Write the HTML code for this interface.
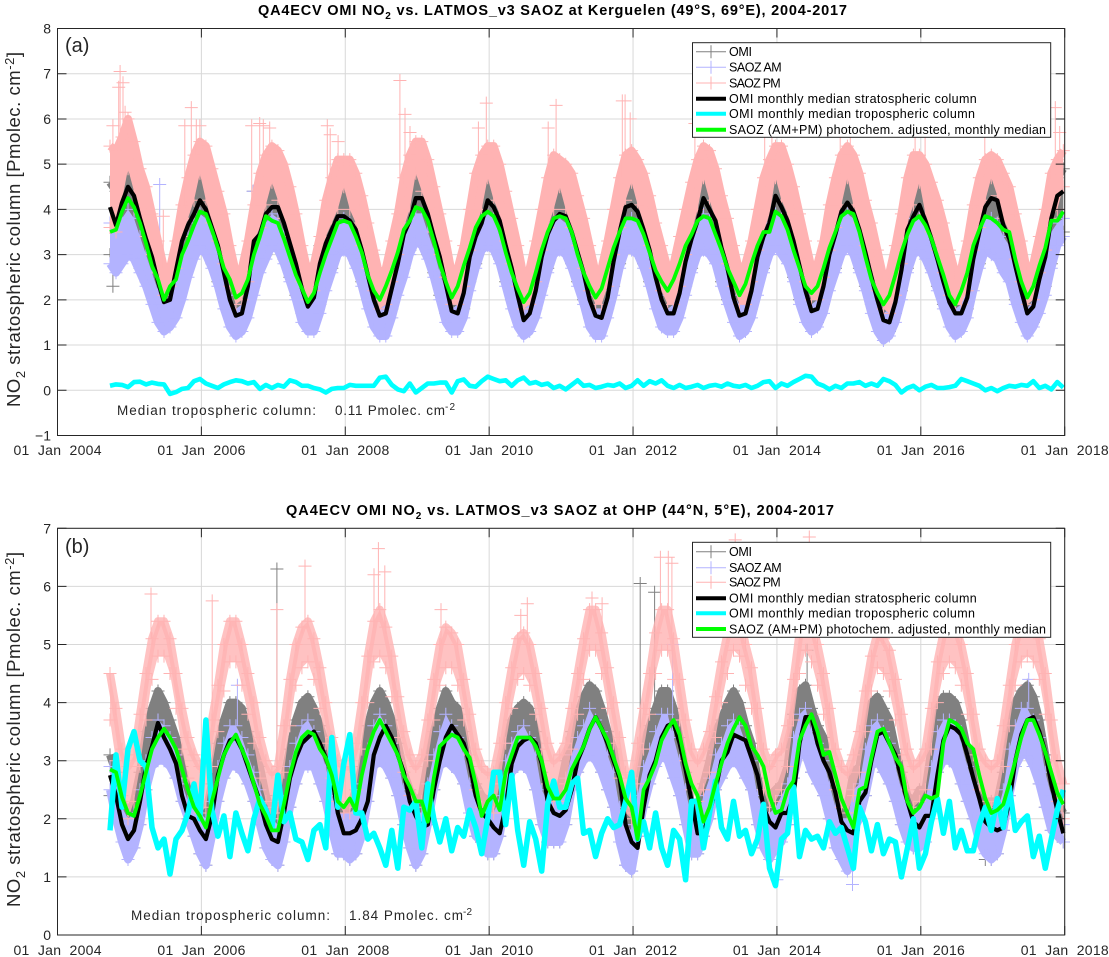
<!DOCTYPE html>
<html>
<head>
<meta charset="utf-8">
<title>QA4ECV OMI NO2 vs. LATMOS_v3 SAOZ</title>
<style>
html,body{margin:0;padding:0;background:#fff;}
svg{display:block;}
text{font-family:"Liberation Sans",sans-serif;fill:#262626;white-space:pre;}
.title{font-weight:bold;font-size:14.5px;fill:#000;}
.tick{font-size:14px;}
.ylab{font-size:18.5px;}
.leg{font-size:12.5px;fill:#000;}
.note{font-size:13.5px;}
.tag{font-size:20px;}
</style>
</head>
<body>
<svg id="chart" xmlns="http://www.w3.org/2000/svg" width="1109" height="957" viewBox="0 0 1109 957">
  <rect width="1109" height="957" fill="#fff"/>
  <g id="panelA"></g>
  <g id="panelB"></g>

  <text class="title" x="258" y="15" textLength="589">QA4ECV OMI NO<tspan dy="4" font-size="10">2</tspan><tspan dy="-4"> vs. LATMOS_v3 SAOZ at Kerguelen (49°S, 69°E), 2004-2017</tspan></text>
  <text class="title" x="286" y="515" textLength="548">QA4ECV OMI NO<tspan dy="4" font-size="10">2</tspan><tspan dy="-4"> vs. LATMOS_v3 SAOZ at OHP (44°N, 5°E), 2004-2017</tspan></text>

  <text class="ylab" transform="translate(20,407) rotate(-90)" textLength="355">NO<tspan dy="5" font-size="13">2</tspan><tspan dy="-5"> stratospheric column [Pmolec. cm</tspan><tspan dy="-6" font-size="13">-2</tspan><tspan dy="6">]</tspan></text>
  <text class="ylab" transform="translate(20,907) rotate(-90)" textLength="355">NO<tspan dy="5" font-size="13">2</tspan><tspan dy="-5"> stratospheric column [Pmolec. cm</tspan><tspan dy="-6" font-size="13">-2</tspan><tspan dy="6">]</tspan></text>

  <text class="tag" x="65" y="52">(a)</text>
  <text class="tag" x="65" y="553">(b)</text>

  <g>
    <text class="note" x="117" y="415" textLength="199">Median tropospheric column:</text>
    <text class="note" x="335" y="415" textLength="110">0.11 Pmolec. cm</text>
    <text class="note" x="445" y="410" font-size="10" style="font-size:10px" textLength="10">-2</text>
  </g>
  <g>
    <text class="note" x="131" y="920" textLength="199">Median tropospheric column:</text>
    <text class="note" x="349" y="920" textLength="114">1.84 Pmolec. cm</text>
    <text class="note" x="463" y="915" style="font-size:10px" textLength="9">-2</text>
  </g>

  <g>
    <rect x="692.5" y="42.7" width="358.2" height="94.6" fill="#fff" stroke="#262626" stroke-width="1"/>
    <g><path d="M696 51.7H726M711 45.2V58.2" stroke="#808080" fill="none"/><text class="leg" x="729" y="56" textLength="23">OMI</text></g>
    <g><path d="M696 67.3H726M711 60.8V73.8" stroke="#b3b3ff" fill="none"/><text class="leg" x="729" y="71.6" textLength="52.7">SAOZ AM</text></g>
    <g><path d="M696 83H726M711 76.5V89.5" stroke="#ffb3b3" fill="none"/><text class="leg" x="729" y="87.3" textLength="51.7">SAOZ PM</text></g>
    <g><path d="M696 98.7H726" stroke="#000" stroke-width="4"/><text class="leg" x="729" y="103" textLength="247.7">OMI monthly median stratospheric column</text></g>
    <g><path d="M696 113.7H726" stroke="#0ff" stroke-width="4"/><text class="leg" x="729" y="118" textLength="246">OMI monthly median tropospheric column</text></g>
    <g><path d="M696 129.7H726" stroke="#0f0" stroke-width="4"/><text class="leg" x="729" y="134" textLength="317">SAOZ (AM+PM) photochem. adjusted, monthly median</text></g>
  </g>
  <g>
    <rect x="692.5" y="542.3" width="358.2" height="95" fill="#fff" stroke="#262626" stroke-width="1"/>
    <g><path d="M696 551.7H726M711 545.2V558.2" stroke="#808080" fill="none"/><text class="leg" x="729" y="556" textLength="23">OMI</text></g>
    <g><path d="M696 567.7H726M711 561.2V574.2" stroke="#b3b3ff" fill="none"/><text class="leg" x="729" y="572" textLength="52.7">SAOZ AM</text></g>
    <g><path d="M696 582.3H726M711 575.8V588.8" stroke="#ffb3b3" fill="none"/><text class="leg" x="729" y="586.6" textLength="51.7">SAOZ PM</text></g>
    <g><path d="M696 598.3H726" stroke="#000" stroke-width="4"/><text class="leg" x="729" y="602.6" textLength="247.7">OMI monthly median stratospheric column</text></g>
    <g><path d="M696 613.3H726" stroke="#0ff" stroke-width="4"/><text class="leg" x="729" y="617.6" textLength="246">OMI monthly median tropospheric column</text></g>
    <g><path d="M696 629H726" stroke="#0f0" stroke-width="4"/><text class="leg" x="729" y="633.3" textLength="317">SAOZ (AM+PM) photochem. adjusted, monthly median</text></g>
  </g>
</svg>
<script>
// Time axis
const firstSampleYear = 2004.73;
const xTickYears = [2004,2006,2008,2010,2012,2014,2016,2018];
const xTickLabels = ['01  Jan  2004','01  Jan  2006','01  Jan  2008','01  Jan  2010','01  Jan  2012','01  Jan  2014','01  Jan  2016','01  Jan  2018'];
const aYTicks = [-1,0,1,2,3,4,5,6,7,8];
const bYTicks = [0,1,2,3,4,5,6,7];

// Panel (a) Kerguelen: monthly series
const aOmiMedian = [4.05,3.65,4.15,
4.50,4.30,3.80,3.35,2.95,2.40,1.95,2.00,2.65,3.30,3.65,3.90,
4.20,4.00,3.60,3.20,2.60,2.00,1.65,1.70,2.30,3.30,3.45,3.90,
4.05,4.05,3.70,3.25,2.80,2.25,1.85,2.05,2.80,3.25,3.55,3.85,
3.85,3.75,3.55,3.10,2.55,2.00,1.65,1.70,2.25,2.80,3.45,3.75,
4.25,4.25,3.90,3.40,2.95,2.35,1.75,1.70,2.15,2.95,3.40,3.70,
4.20,4.05,3.75,3.20,2.70,2.10,1.55,1.70,2.20,2.95,3.45,3.75,
3.90,3.85,3.50,3.05,2.60,2.00,1.65,1.60,2.05,2.85,3.50,4.05,
4.10,3.95,3.55,3.10,2.50,2.00,1.70,1.70,2.15,2.85,3.35,3.75,
4.25,4.00,3.75,3.15,2.70,2.05,1.65,1.70,2.20,2.95,3.40,3.70,
4.30,4.05,3.75,3.30,2.75,2.20,1.75,1.80,2.30,3.00,3.45,3.95,
4.15,3.95,3.55,3.05,2.50,2.00,1.55,1.50,1.95,2.65,3.55,3.85,
4.10,3.75,3.35,2.90,2.40,1.95,1.70,1.70,2.05,2.90,3.50,4.05,
4.25,4.20,3.65,3.35,2.75,2.20,1.70,1.85,2.45,2.95,3.80,4.30,
4.40];
const aSaozMedian = [3.50,3.55,3.95,
4.25,4.05,3.70,3.25,2.75,2.45,2.00,2.30,2.45,3.00,3.30,3.65,
3.95,3.90,3.55,3.15,2.70,2.45,2.05,2.15,2.45,3.00,3.40,3.85,
3.75,3.70,3.35,2.95,2.55,2.25,1.95,2.15,2.60,3.00,3.35,3.70,
3.75,3.70,3.40,3.05,2.55,2.20,2.00,2.30,2.65,3.05,3.55,3.75,
4.05,4.00,3.75,3.30,2.80,2.40,2.05,2.30,2.75,3.15,3.60,3.85,
3.95,3.85,3.55,3.05,2.60,2.25,1.95,2.15,2.60,3.10,3.50,3.80,
3.85,3.80,3.50,3.00,2.60,2.30,2.05,2.25,2.70,3.15,3.50,3.80,
3.80,3.75,3.45,3.05,2.65,2.40,2.20,2.45,2.80,3.20,3.45,3.75,
3.85,3.80,3.45,3.10,2.70,2.40,2.10,2.35,2.80,3.20,3.50,3.50,
3.95,3.85,3.55,3.10,2.70,2.30,2.15,2.30,2.70,3.15,3.50,3.85,
3.95,3.90,3.50,2.95,2.45,2.15,1.90,2.10,2.55,3.05,3.45,3.75,
3.85,3.65,3.35,2.95,2.55,2.10,1.90,2.20,2.60,3.20,3.55,3.85,
3.80,3.70,3.55,3.50,2.90,2.40,2.05,2.30,2.75,3.15,3.75,3.75,
3.95];
const aTropMedian = [.10,.13,.12,.07,.18,.19,.13,.17,.14,.13,
-.08,-.04,.03,.05,.20,.25,.15,.10,.05,.13,
.18,.22,.20,.15,.18,.03,.12,.05,.12,.08,
.22,.18,.10,.10,.05,.02,-.05,.03,.05,.05,
.12,.10,.10,.10,.10,.28,.30,.12,.02,-.02,
.15,-.05,.05,.15,.15,.17,.17,-.05,.20,.24,
.10,.08,.20,.30,.25,.20,.22,.10,.22,.28,
.15,.18,.12,.15,.05,.10,.02,.12,.22,.10,
.12,.05,.08,.12,.10,.15,.05,.10,.22,.10,
.20,.15,.22,.10,.05,.12,.05,.08,.12,.05,
.10,.12,.08,.15,.10,.08,.12,.05,.10,.18,
.20,.05,.15,.10,.18,.25,.32,.30,.15,.10,
.02,.10,.05,.15,.15,.18,.10,.15,.10,.25,
.20,.12,-.05,.05,.10,.00,.08,.12,.05,.05,
.07,.10,.25,.20,.15,.10,.00,.05,-.02,.05,
.10,.08,.12,.10,.20,.05,.10,.02,.18,.06];

// Panel (a): upper and lower edges of each daily cloud
const aOmiHigh = [4.6,4.4,4.7,
5.1,4.7,4.1,3.7,3.3,2.8,2.3,2.5,3.0,3.7,4.2,4.5,
4.8,4.6,4.2,3.7,3.2,2.6,2.2,2.3,2.8,3.5,4.1,4.4,
4.7,4.6,4.2,3.8,3.3,2.8,2.3,2.5,3.2,3.8,4.2,4.4,
4.6,4.4,4.1,3.7,3.1,2.6,2.1,2.3,2.8,3.4,4.0,4.4,
4.9,4.8,4.4,3.9,3.4,2.9,2.2,2.3,2.7,3.5,4.1,4.4,
4.8,4.6,4.3,3.8,3.2,2.7,2.1,2.3,2.8,3.5,4.0,4.4,
4.6,4.4,4.1,3.6,3.1,2.6,2.2,2.2,2.7,3.5,4.0,4.5,
4.7,4.5,4.1,3.6,3.1,2.6,2.2,2.3,2.8,3.4,3.9,4.4,
4.8,4.6,4.3,3.7,3.2,2.6,2.2,2.3,2.8,3.5,4.0,4.4,
4.8,4.6,4.3,3.8,3.3,2.8,2.3,2.4,2.9,3.6,4.0,4.5,
4.8,4.5,4.1,3.6,3.1,2.6,2.1,2.1,2.6,3.2,4.0,4.5,
4.7,4.3,3.9,3.5,3.0,2.5,2.2,2.3,2.7,3.5,4.1,4.5,
4.8,4.7,4.2,3.9,3.3,2.8,2.3,2.4,3.0,3.5,4.1,4.7,
4.9];
const aOmiLow = [3.0,2.9,3.0,
3.2,3.0,2.7,2.4,2.1,1.7,1.5,1.6,1.9,2.4,2.8,3.1,
3.3,3.2,2.8,2.4,2.0,1.6,1.4,1.5,1.8,2.3,2.8,3.0,
3.3,3.2,2.9,2.5,2.1,1.7,1.5,1.5,1.9,2.4,2.7,3.1,
3.2,3.1,2.8,2.4,2.0,1.6,1.4,1.4,1.8,2.3,2.7,3.1,
3.4,3.3,3.0,2.6,2.1,1.7,1.5,1.5,1.8,2.4,2.8,3.2,
3.3,3.2,2.9,2.4,2.0,1.6,1.4,1.5,1.8,2.3,2.7,3.1,
3.2,3.1,2.8,2.4,2.0,1.6,1.4,1.4,1.8,2.3,2.8,3.2,
3.2,3.1,2.8,2.4,2.0,1.6,1.5,1.5,1.8,2.3,2.7,3.1,
3.2,3.1,2.9,2.4,2.0,1.7,1.4,1.5,1.8,2.3,2.7,3.1,
3.3,3.1,2.9,2.5,2.0,1.7,1.5,1.5,1.9,2.4,2.7,3.1,
3.3,3.1,2.7,2.3,1.9,1.5,1.3,1.3,1.7,2.2,2.7,3.1,
3.2,3.0,2.7,2.3,1.9,1.6,1.4,1.5,1.8,2.4,2.8,3.2,
3.1,3.0,2.7,2.5,2.0,1.7,1.4,1.5,1.9,2.3,2.8,3.3,
3.5];
const aAmHigh = [3.7,3.5,3.8,
4.0,3.8,3.4,3.0,2.6,2.2,1.9,2.0,2.4,3.0,3.4,3.7,
3.9,3.8,3.4,3.0,2.5,2.1,1.8,1.9,2.3,2.9,3.3,3.7,
3.9,3.8,3.5,3.0,2.6,2.2,1.9,2.0,2.5,3.0,3.4,3.7,
3.8,3.7,3.4,2.9,2.4,2.0,1.8,1.9,2.3,2.8,3.3,3.7,
3.9,3.9,3.5,3.1,2.6,2.2,1.8,1.9,2.3,2.9,3.4,3.7,
3.9,3.8,3.4,3.0,2.5,2.1,1.8,1.9,2.3,2.9,3.4,3.7,
3.8,3.7,3.4,2.9,2.5,2.1,1.8,1.8,2.2,2.8,3.4,3.8,
3.8,3.7,3.4,2.9,2.4,2.1,1.8,1.9,2.3,2.9,3.3,3.7,
3.9,3.8,3.5,3.0,2.5,2.1,1.9,1.9,2.3,2.9,3.4,3.7,
3.9,3.8,3.5,3.1,2.6,2.2,1.9,2.0,2.4,3.0,3.4,3.8,
3.9,3.8,3.4,2.9,2.4,2.0,1.7,1.8,2.2,2.8,3.4,3.8,
3.8,3.6,3.2,2.8,2.4,2.0,1.8,1.9,2.3,2.9,3.4,3.8,
3.8,3.7,3.4,3.2,2.7,2.2,1.8,2.0,2.4,2.9,3.5,3.7,
3.8];
const aAmLow = [2.8,2.6,2.8,
3.0,2.9,2.6,2.3,1.9,1.5,1.3,1.4,1.6,2.0,2.5,2.9,
3.2,3.0,2.7,2.3,1.8,1.4,1.2,1.3,1.6,2.1,2.6,2.9,
3.2,3.1,2.8,2.4,2.0,1.5,1.3,1.3,1.7,2.2,2.6,3.0,
3.1,3.0,2.7,2.3,1.8,1.4,1.2,1.2,1.6,2.1,2.5,3.0,
3.3,3.2,2.9,2.5,2.0,1.5,1.3,1.3,1.6,2.2,2.7,3.1,
3.2,3.1,2.8,2.3,1.8,1.4,1.2,1.3,1.6,2.1,2.6,3.0,
3.1,3.0,2.7,2.3,1.9,1.4,1.2,1.2,1.6,2.1,2.7,3.1,
3.1,3.0,2.7,2.3,1.8,1.4,1.3,1.3,1.6,2.1,2.6,3.0,
3.1,3.0,2.8,2.3,1.9,1.5,1.2,1.3,1.6,2.1,2.6,3.0,
3.2,3.0,2.8,2.4,1.9,1.5,1.3,1.4,1.7,2.2,2.6,3.0,
3.2,3.0,2.6,2.2,1.7,1.3,1.1,1.2,1.5,2.0,2.6,3.0,
3.1,2.9,2.6,2.2,1.8,1.4,1.2,1.3,1.6,2.2,2.7,3.1,
3.0,2.9,2.6,2.4,1.9,1.5,1.2,1.4,1.7,2.1,2.7,3.2,
3.4];
const aPmHigh = [5.4,5.3,5.6,
6.0,5.5,4.9,4.5,3.9,3.3,2.7,2.7,3.3,4.1,4.7,5.2,
5.5,5.4,4.9,4.4,3.9,3.2,2.6,2.7,3.3,4.1,4.8,5.2,
5.4,5.3,5.0,4.5,3.9,3.2,2.6,2.8,3.4,4.2,4.7,5.1,
5.1,5.1,4.8,4.3,3.7,3.1,2.5,2.7,3.3,3.9,4.7,5.2,
5.5,5.5,5.1,4.5,3.9,3.3,2.6,2.7,3.2,4.0,4.8,5.2,
5.4,5.4,5.0,4.4,3.8,3.2,2.5,2.7,3.3,4.0,4.7,5.2,
5.1,5.0,4.8,4.3,3.8,3.2,2.6,2.7,3.3,4.0,4.7,5.2,
5.3,5.1,4.8,4.3,3.7,3.2,2.7,2.8,3.4,4.0,4.6,5.1,
5.4,5.3,4.9,4.3,3.8,3.2,2.6,2.8,3.3,4.0,4.7,5.1,
5.4,5.4,5.0,4.5,3.9,3.3,2.7,2.8,3.3,4.1,4.7,5.2,
5.4,5.2,4.8,4.2,3.7,3.1,2.5,2.6,3.2,3.9,4.7,5.2,
5.2,5.0,4.6,4.2,3.7,3.1,2.6,2.7,3.3,4.1,4.7,5.1,
5.2,5.1,4.8,4.5,3.9,3.3,2.6,2.8,3.4,4.0,4.8,5.1,
5.3];
const aPmLow = [3.6,3.5,4.2,
4.9,4.4,3.9,3.4,3.0,2.6,2.1,2.3,2.7,3.4,3.8,4.2,
4.8,4.2,3.7,3.3,2.8,2.3,1.9,2.0,2.4,3.3,3.6,4.1,
4.6,4.2,3.8,3.4,2.9,2.4,2.0,2.2,2.9,3.4,3.7,4.0,
4.5,4.0,3.7,3.2,2.7,2.2,1.8,1.9,2.4,3.0,3.6,4.0,
4.8,4.4,4.0,3.5,3.0,2.5,1.9,1.9,2.3,3.1,3.6,4.0,
4.7,4.2,3.9,3.3,2.8,2.3,1.8,1.9,2.4,3.1,3.6,4.0,
4.5,4.0,3.6,3.2,2.7,2.2,1.9,1.9,2.3,3.0,3.6,4.2,
4.6,4.1,3.7,3.2,2.7,2.2,1.9,1.9,2.3,3.0,3.5,4.0,
4.7,4.2,3.8,3.3,2.8,2.3,1.9,1.9,2.4,3.1,3.5,3.9,
4.7,4.2,3.9,3.4,2.9,2.4,2.0,2.0,2.5,3.1,3.6,4.1,
4.7,4.1,3.7,3.2,2.7,2.2,1.8,1.7,2.1,2.8,3.7,4.1,
4.6,3.9,3.5,3.1,2.6,2.1,1.9,1.9,2.2,3.1,3.6,4.2,
4.7,4.3,3.8,3.5,2.9,2.4,1.9,2.0,2.6,3.1,3.8,4.0,
4.5];

// Panel (a): isolated outliers
const aPmSpikeDates = [2004.77,2004.85,2004.87,2004.91,2004.94,2005.47,2005.77,2005.86,2005.93,2005.98,2006.70,2006.81,2006.86,2006.95,2007.75,2007.79,2007.90,2008.76,2008.83,2008.90,2009.85,2009.96,2010.82,2010.93,2011.85,2011.89,2011.96,2012.86,2013.83,2013.93,2014.88,2015.02,2015.92,2016.06,2016.89,2017.87,2017.93];
const aPmSpikeValues = [5.85,6.7,7.05,6.8,6.15,3.85,5.85,6.25,5.85,5.85,5.85,5.9,5.85,5.8,5.85,5.65,5.5,6.85,6.1,5.7,5.8,6.35,5.8,6.3,6.4,6.4,6.0,5.9,5.9,6.3,5.9,5.9,5.9,5.8,5.7,6.25,5.7];
const aAmSpikeDates = [2005.42,2006.72];
const aAmSpikeValues = [4.55,4.4];
const aOmiSpikeDates = [2004.77,2006.72,2007.75];
const aOmiSpikeValues = [2.3,4.4,2.9];

// Panel (b) OHP: monthly series
const bOmiMedian = [2.75,2.40,1.90,1.65,1.80,2.30,2.90,3.25,3.65,3.40,
3.20,2.95,2.40,2.05,2.00,1.80,1.65,2.05,2.75,3.10,
3.35,3.40,3.20,2.90,2.60,2.30,1.90,1.65,1.60,2.10,
2.70,3.05,3.30,3.40,3.50,3.30,3.05,2.75,2.10,1.75,
1.75,1.80,2.00,2.30,3.10,3.40,3.60,3.40,3.10,2.80,
2.30,2.05,1.85,1.90,2.50,3.00,3.40,3.60,3.45,3.30,
2.95,2.40,2.10,2.00,1.85,1.75,2.20,2.95,3.25,3.35,
3.40,3.30,2.95,2.30,2.10,2.05,2.15,2.50,3.00,3.25,
3.55,3.75,3.55,3.30,3.00,2.70,1.90,1.60,1.50,2.20,
2.75,3.00,3.40,3.60,3.65,3.30,2.85,2.30,1.75,1.75,
2.10,2.50,3.00,3.15,3.45,3.40,3.35,3.05,2.75,2.20,
1.95,1.85,2.10,2.10,2.40,3.30,3.75,3.75,3.30,3.00,
2.80,2.45,1.95,1.80,1.75,2.30,2.45,3.00,3.45,3.50,
3.30,3.10,2.70,2.30,1.95,1.85,2.05,2.05,2.75,3.35,
3.60,3.55,3.45,3.10,2.70,2.35,1.95,1.85,1.80,1.85,
2.30,3.00,3.45,3.70,3.75,3.50,3.15,2.60,2.15,1.75];
const bSaozMedian = [2.85,2.80,2.37,2.10,2.05,2.40,2.80,3.20,3.40,3.55,
3.40,3.20,2.85,2.50,2.20,2.05,1.85,2.30,2.70,3.10,
3.30,3.45,3.20,2.95,2.60,2.25,2.05,1.80,1.80,2.25,
2.75,3.15,3.40,3.50,3.45,3.20,3.05,2.75,2.30,2.20,
2.35,2.15,2.75,3.20,3.50,3.70,3.50,3.30,3.10,2.75,
2.55,2.30,2.30,1.95,2.70,3.25,3.35,3.45,3.40,3.20,
3.05,2.60,2.05,2.30,2.40,2.15,2.80,3.10,3.40,3.40,
3.40,3.25,3.00,2.55,2.35,2.35,2.50,2.85,3.05,3.25,
3.55,3.75,3.55,3.35,3.05,2.75,2.35,2.20,1.65,2.50,
2.70,2.95,3.35,3.55,3.70,3.45,2.95,2.60,2.40,1.95,
2.20,2.60,2.95,3.30,3.55,3.75,3.60,3.25,3.10,2.90,
2.40,2.10,2.15,2.50,2.65,3.35,3.60,3.80,3.50,3.10,
3.15,2.75,2.35,2.10,1.85,2.50,2.55,3.05,3.50,3.55,
3.30,3.05,2.90,2.30,2.10,2.20,2.40,2.35,2.40,3.30,
3.70,3.65,3.55,3.30,3.20,2.75,2.35,2.10,2.15,2.25,
2.60,3.00,3.40,3.70,3.70,3.45,3.15,2.80,2.45,2.25];
const bTropMedian = [1.80,3.10,2.20,3.20,3.50,3.00,2.90,1.85,1.50,1.65,
1.05,1.65,1.80,2.10,2.60,2.00,3.70,2.15,1.70,2.05,
1.35,2.10,1.75,1.45,2.00,2.35,2.15,1.85,2.75,1.95,
2.10,1.65,1.60,1.30,1.80,1.90,1.50,3.40,2.20,2.95,
3.45,2.10,2.10,1.65,1.75,1.50,1.20,1.80,1.15,2.20,
2.15,2.30,1.50,2.60,2.00,1.60,2.00,1.45,1.85,1.70,
2.15,1.85,1.40,2.00,2.80,2.80,1.90,2.75,1.80,1.20,
1.95,1.65,1.10,2.25,2.65,2.20,2.20,2.60,2.70,1.75,
1.80,1.35,1.75,2.00,1.85,1.90,2.30,2.80,1.65,1.95,
1.50,2.10,1.50,1.20,1.80,1.65,0.95,2.30,2.30,1.50,
2.10,2.65,1.85,1.65,2.30,1.70,1.80,1.40,1.65,2.25,
1.15,0.85,1.65,1.75,2.55,1.35,1.80,1.65,1.70,1.50,
1.95,1.75,1.85,1.50,1.15,2.20,1.95,1.45,1.90,1.40,
1.65,1.60,1.00,1.50,2.00,1.15,1.40,1.95,2.35,1.75,
2.30,1.50,1.80,1.45,1.45,1.90,2.20,1.80,2.35,1.85,
2.55,1.80,1.95,2.05,1.35,1.70,1.15,1.65,2.15,2.50];

// Panel (b): upper and lower edges of each daily cloud
const bOmiHigh = [3.1,2.8,2.3,
2.1,2.3,2.8,3.5,3.9,4.2,4.0,3.7,3.4,2.9,2.5,2.4,
2.2,2.1,2.6,3.3,3.7,4.0,4.0,3.9,3.5,3.2,2.9,2.4,
2.1,2.1,2.7,3.2,3.7,4.0,4.1,3.9,3.6,3.3,2.6,2.2,
2.1,2.2,2.5,2.9,3.6,4.0,4.2,4.0,3.7,3.3,2.8,2.5,
2.3,2.4,3.0,3.5,3.9,4.2,4.0,3.9,3.5,2.9,2.6,2.4,
2.3,2.2,2.7,3.3,3.7,3.9,4.0,3.9,3.5,2.8,2.5,2.5,
2.5,3.0,3.5,3.8,4.1,4.3,4.2,3.9,3.5,3.2,2.5,2.1,
2.0,2.7,3.3,3.6,3.9,4.2,4.2,3.9,3.4,2.8,2.2,2.2,
2.6,3.0,3.5,3.7,4.0,4.2,4.0,3.6,3.3,2.7,2.4,2.4,
2.5,2.6,2.9,3.8,4.2,4.3,3.9,3.6,3.4,2.9,2.4,2.2,
2.2,2.8,2.9,3.5,4.0,4.1,3.9,3.7,3.2,2.8,2.4,2.3,
2.5,2.5,3.2,3.9,4.1,4.1,4.0,3.7,3.2,2.9,2.4,2.3,
2.3,2.3,2.8,3.5,4.0,4.2,4.3,4.1,3.7,3.1,2.6,2.3,
2.1];
const bOmiLow = [2.4,2.0,1.6,
1.3,1.5,1.9,2.5,2.9,3.1,3.1,3.0,2.7,2.3,2.0,1.7,
1.4,1.2,1.7,2.3,2.7,3.0,3.0,2.8,2.6,2.3,1.9,1.5,
1.3,1.2,1.6,2.2,2.6,2.9,3.0,2.9,2.6,2.3,1.8,1.4,
1.4,1.3,1.4,1.7,2.3,2.9,3.1,2.9,2.7,2.4,1.9,1.5,
1.2,1.4,1.9,2.5,2.9,3.1,3.0,2.8,2.6,2.1,1.7,1.6,
1.4,1.4,1.7,2.4,2.8,3.0,3.0,2.8,2.5,1.9,1.6,1.6,
1.6,1.9,2.5,2.8,3.0,3.2,3.1,2.8,2.5,2.2,1.6,1.2,
1.1,1.7,2.2,2.6,2.9,3.1,3.1,2.7,2.4,1.9,1.4,1.4,
1.7,2.0,2.5,2.7,3.0,3.1,3.0,2.7,2.5,1.9,1.5,1.3,
1.5,1.6,1.9,2.7,3.1,3.2,2.8,2.6,2.4,2.0,1.5,1.3,
1.2,1.8,2.0,2.4,2.9,3.0,2.8,2.6,2.3,1.9,1.6,1.5,
1.5,1.6,2.2,2.8,3.0,3.0,2.9,2.6,2.3,2.0,1.6,1.3,
1.3,1.4,1.8,2.4,2.9,3.1,3.1,2.9,2.6,2.2,1.8,1.7,
1.6];
const bAmHigh = [2.9,2.6,2.2,
2.0,2.1,2.5,3.0,3.4,3.7,3.6,3.4,3.1,2.6,2.3,2.2,
2.1,2.0,2.3,2.9,3.3,3.6,3.6,3.4,3.1,2.8,2.5,2.2,
2.0,1.9,2.3,2.9,3.3,3.6,3.7,3.5,3.2,2.9,2.4,2.1,
2.1,2.1,2.2,2.6,3.2,3.6,3.8,3.6,3.3,3.0,2.5,2.3,
2.1,2.1,2.6,3.1,3.5,3.8,3.6,3.4,3.1,2.6,2.3,2.2,
2.1,2.1,2.4,3.0,3.3,3.5,3.6,3.4,3.1,2.5,2.3,2.3,
2.3,2.7,3.1,3.4,3.6,3.9,3.7,3.5,3.1,2.8,2.2,1.9,
1.8,2.4,2.9,3.2,3.5,3.8,3.8,3.4,3.0,2.5,2.0,2.0,
2.4,2.7,3.1,3.3,3.6,3.7,3.6,3.3,3.0,2.4,2.2,2.1,
2.2,2.4,2.6,3.4,3.8,3.9,3.5,3.3,3.0,2.6,2.2,2.0,
2.0,2.5,2.6,3.2,3.6,3.7,3.5,3.3,2.9,2.5,2.2,2.1,
2.2,2.3,2.9,3.5,3.7,3.7,3.6,3.3,2.9,2.6,2.2,2.1,
2.1,2.1,2.5,3.2,3.6,3.9,3.9,3.7,3.4,2.8,2.4,2.1,
1.9];
const bAmLow = [2.5,2.0,1.6,
1.3,1.5,1.9,2.5,2.9,3.0,3.0,2.9,2.7,2.3,2.0,1.7,
1.4,1.2,1.7,2.3,2.7,2.9,2.9,2.8,2.6,2.3,1.9,1.5,
1.3,1.2,1.6,2.2,2.6,2.9,2.9,2.9,2.6,2.3,1.8,1.4,
1.4,1.3,1.4,1.7,2.3,2.9,3.0,2.9,2.7,2.4,1.9,1.5,
1.2,1.4,1.9,2.5,2.9,3.0,2.9,2.8,2.6,2.1,1.7,1.6,
1.4,1.4,1.7,2.4,2.8,2.9,2.9,2.8,2.5,1.9,1.6,1.6,
1.6,1.9,2.5,2.8,3.0,3.1,3.0,2.8,2.5,2.2,1.6,1.2,
1.1,1.7,2.2,2.6,2.9,3.1,3.0,2.7,2.4,1.9,1.4,1.4,
1.7,2.0,2.5,2.7,2.9,3.0,2.9,2.7,2.5,1.9,1.5,1.3,
1.5,1.6,1.9,2.7,3.1,3.1,2.8,2.6,2.4,2.0,1.5,1.3,
1.1,1.8,2.0,2.4,2.9,3.0,2.8,2.6,2.3,1.9,1.6,1.5,
1.5,1.6,2.2,2.8,3.0,3.0,2.9,2.6,2.3,2.0,1.6,1.4,
1.3,1.4,1.8,2.4,2.9,3.1,3.1,2.9,2.6,2.2,1.8,1.7,
1.6];
const bPmHigh = [4.5,3.9,3.2,
2.9,3.1,3.8,4.5,5.1,5.4,5.4,5.1,4.5,3.9,3.4,3.1,
2.9,3.0,3.7,4.3,5.0,5.4,5.4,5.0,4.5,4.0,3.4,3.0,
2.8,2.9,3.6,4.4,5.0,5.3,5.4,5.1,4.6,4.0,3.4,3.0,
2.9,2.9,3.3,4.0,4.8,5.4,5.6,5.3,4.8,4.1,3.5,3.1,
2.9,3.1,3.7,4.4,5.0,5.3,5.2,5.0,4.4,3.8,3.2,2.9,
2.8,2.8,3.3,4.0,4.6,5.1,5.2,5.0,4.5,3.9,3.3,3.0,
3.1,3.3,3.9,4.5,5.1,5.6,5.6,5.2,4.6,4.0,3.4,2.8,
2.7,3.3,3.9,4.5,5.2,5.6,5.6,5.1,4.4,3.7,3.2,3.0,
3.2,3.5,4.1,4.7,5.2,5.6,5.5,5.0,4.6,3.9,3.2,2.9,
3.1,3.2,3.6,4.4,5.2,5.6,5.4,5.0,4.5,3.9,3.2,2.9,
2.8,3.1,3.5,4.2,4.8,5.2,5.1,4.9,4.4,3.8,3.2,2.9,
3.0,3.2,3.9,4.7,5.2,5.4,5.3,5.0,4.5,3.8,3.2,3.0,
2.9,3.0,3.6,4.3,5.0,5.4,5.5,5.4,5.1,4.5,3.7,3.0,
2.6];
const bPmLow = [3.7,3.0,2.4,
2.0,2.3,2.9,3.7,4.4,4.8,4.8,4.5,3.9,3.2,2.7,2.4,
2.1,2.2,2.9,3.5,4.2,4.7,4.7,4.3,3.8,3.3,2.7,2.3,
2.0,2.1,2.8,3.6,4.3,4.6,4.7,4.4,3.9,3.3,2.7,2.3,
2.1,2.1,2.5,3.2,4.0,4.7,4.8,4.6,4.1,3.4,2.8,2.4,
2.2,2.3,3.0,3.7,4.3,4.6,4.6,4.3,3.7,3.1,2.5,2.2,
2.1,2.1,2.6,3.3,3.9,4.4,4.5,4.3,3.8,3.2,2.6,2.3,
2.3,2.6,3.2,3.8,4.4,4.9,4.9,4.5,3.9,3.3,2.7,2.1,
2.0,2.6,3.2,3.8,4.5,4.9,4.9,4.4,3.7,3.0,2.5,2.3,
2.5,2.8,3.4,4.0,4.5,4.9,4.8,4.3,3.9,3.2,2.5,2.2,
2.3,2.5,2.9,3.7,4.5,4.9,4.7,4.3,3.8,3.2,2.5,2.2,
2.1,2.4,2.8,3.5,4.2,4.6,4.5,4.2,3.7,3.1,2.5,2.2,
2.3,2.5,3.2,4.0,4.5,4.7,4.6,4.3,3.8,3.1,2.5,2.3,
2.2,2.3,2.9,3.6,4.3,4.7,4.8,4.7,4.4,3.8,3.0,2.3,
2.0];

// Panel (b): isolated outliers
const bPmSpikeDates = [2005.30,2006.15,2007.05,2007.44,2008.40,2008.46,2008.55,2009.33,2010.44,2010.53,2011.43,2011.57,2012.38,2012.49,2012.54,2013.42,2014.45];
const bPmSpikeValues = [5.87,5.75,5.6,6.35,6.2,6.65,6.25,5.6,5.5,5.7,5.8,5.7,6.5,6.5,6.4,6.8,6.85];
const bAmSpikeDates = [2006.50,2012.55,2015.05,2014.00,2017.50];
const bAmSpikeValues = [4.3,5.0,0.87,0.95,4.4];
const bOmiSpikeDates = [2007.05,2012.10,2012.30,2014.42];
const bOmiSpikeValues = [6.3,6.05,5.9,4.9];

const SVGNS = 'http://www.w3.org/2000/svg';
const plotLeft = 57.5, plotRight = 1064.7;
const crossArm = 6.5;

function xScale(year){ return plotLeft + (year - 2004) * (plotRight - plotLeft) / 14; }
function sampleYear(i){ return firstSampleYear + i / 12; }
function makeY(domainMin, domainMax, top, bottom){
  return function(v){ return bottom - (v - domainMin) * (bottom - top) / (domainMax - domainMin); };
}
function make(tag, parent, attrs){
  const el = document.createElementNS(SVGNS, tag);
  for (const k in attrs) el.setAttribute(k, attrs[k]);
  parent.appendChild(el);
  return el;
}
function f(n){ return n.toFixed(1); }

function cloudPath(high, low, y){
  let d = '';
  high.forEach(function(v, i){ d += (i ? 'L' : 'M') + f(xScale(sampleYear(i))) + ' ' + f(y(v)); });
  for (let i = low.length - 1; i >= 0; i--) d += 'L' + f(xScale(sampleYear(i))) + ' ' + f(y(low[i]));
  return d + 'Z';
}
function crossPath(dates, values, y){
  let d = '';
  values.forEach(function(v, i){
    const px = xScale(dates(i)), py = y(v);
    d += 'M' + f(px - crossArm) + ' ' + f(py) + 'h' + (crossArm * 2) + 'M' + f(px) + ' ' + f(py - crossArm) + 'v' + (crossArm * 2);
  });
  return d;
}
function spikePath(spikeDates, spikeValues, high, low, y){
  let d = '';
  spikeValues.forEach(function(v, k){
    const yr = spikeDates[k];
    const idx = Math.max(0, Math.min(high.length - 1, Math.round((yr - firstSampleYear) * 12)));
    const base = v > high[idx] ? high[idx] : low[idx];
    const px = xScale(yr), py = y(v);
    d += 'M' + f(px) + ' ' + f(y(base)) + 'V' + f(py);
    d += 'M' + f(px - crossArm) + ' ' + f(py) + 'h' + (crossArm * 2) + 'M' + f(px) + ' ' + f(py - crossArm) + 'v' + (crossArm * 2);
  });
  return d;
}
function linePath(values, y){
  let d = '';
  values.forEach(function(v, i){ d += (i ? 'L' : 'M') + f(xScale(sampleYear(i))) + ' ' + f(y(v)); });
  return d;
}

function drawCloud(root, high, low, spikeDates, spikeValues, y, color, outerEdge, edgeWidth, fillOpacity){
  const g = make('g', root, {});
  
  
  make('path', g, {d: cloudPath(high, low, y), fill: color, stroke: 'none', 'fill-opacity': fillOpacity});
  make('path', g, {d: linePath(outerEdge, y), fill: 'none', stroke: color, 'stroke-width': edgeWidth, 'stroke-linejoin': 'round', 'stroke-opacity': fillOpacity});
  const dates = sampleYear;
  make('path', g, {d: crossPath(dates, high, y) + crossPath(dates, low, y), fill: 'none', stroke: color, 'stroke-width': 1});
  make('path', g, {d: spikePath(spikeDates, spikeValues, high, low, y), fill: 'none', stroke: color, 'stroke-width': 1});
}

function drawPanel(root, top, bottom, yTicks, tickLabelY, s){
  const y = makeY(yTicks[0], yTicks[yTicks.length - 1], top, bottom);
  const grid = make('g', root, {});
  
  
  yTicks.forEach(function(t){
    make('line', grid, {x1: plotLeft, x2: plotRight, y1: y(t), y2: y(t), stroke: '#d8d8d8', 'stroke-width': 1});
  });
  xTickYears.forEach(function(yr){
    make('line', grid, {x1: xScale(yr), x2: xScale(yr), y1: top, y2: bottom, stroke: '#d8d8d8', 'stroke-width': 1});
  });

  drawCloud(root, s.omiHigh, s.omiLow, s.omiSpikeDates, s.omiSpikeValues, y, '#808080', s.omiHigh, 8, 1);
  drawCloud(root, s.amHigh, s.amLow, s.amSpikeDates, s.amSpikeValues, y, '#b3b3ff', s.amLow, 8, 1);
  drawCloud(root, s.pmHigh, s.pmLow, s.pmSpikeDates, s.pmSpikeValues, y, '#ffb3b3', s.pmHigh, 8, s.pmOpacity);

  const strat = make('path', root, {d: linePath(s.omi, y), fill: 'none', stroke: '#000', 'stroke-width': 4.2, 'stroke-linejoin': 'round'});
  
  
  const trop = make('path', root, {d: linePath(s.trop, y), fill: 'none', stroke: '#0ff', 'stroke-width': s.tropWidth, 'stroke-linejoin': 'round'});
  
  
  const saoz = make('path', root, {d: linePath(s.saoz, y), fill: 'none', stroke: '#0f0', 'stroke-width': 3.8, 'stroke-linejoin': 'round'});
  
  

  const frame = make('rect', root, {x: plotLeft, y: top, width: plotRight - plotLeft, height: bottom - top, fill: 'none', stroke: '#262626', 'stroke-width': 1});
  
  

  const xAxis = make('g', root, {});
  
  
  xTickYears.forEach(function(yr, i){
    const px = xScale(yr);
    make('path', xAxis, {d: 'M' + px + ' ' + top + 'v9M' + px + ' ' + bottom + 'v-9', stroke: '#262626', fill: 'none', 'stroke-width': 1});
    const lab = make('text', xAxis, {class: 'tick', x: px - 44, y: tickLabelY, textLength: 88});
    lab.textContent = xTickLabels[i];
    
    
  });

  const yAxis = make('g', root, {});
  
  
  yTicks.forEach(function(t){
    const py = y(t);
    make('path', yAxis, {d: 'M' + plotLeft + ' ' + py + 'h9M' + plotRight + ' ' + py + 'h-9', stroke: '#262626', fill: 'none', 'stroke-width': 1});
    const lab = make('text', yAxis, {class: 'tick', x: 51, y: py + 5, 'text-anchor': 'end'});
    lab.textContent = t < 0 ? '\u2212' + Math.abs(t) : String(t);
    
    
  });
}

drawPanel(document.getElementById('panelA'), 28.5, 435.5, aYTicks, 455, {
  omi: aOmiMedian, saoz: aSaozMedian, trop: aTropMedian, tropWidth: 4.6, pmOpacity: 1,
  omiHigh: aOmiHigh, omiLow: aOmiLow, amHigh: aAmHigh, amLow: aAmLow, pmHigh: aPmHigh, pmLow: aPmLow,
  omiSpikeDates: aOmiSpikeDates, omiSpikeValues: aOmiSpikeValues,
  amSpikeDates: aAmSpikeDates, amSpikeValues: aAmSpikeValues,
  pmSpikeDates: aPmSpikeDates, pmSpikeValues: aPmSpikeValues
});
drawPanel(document.getElementById('panelB'), 528.3, 935, bYTicks, 955, {
  omi: bOmiMedian, saoz: bSaozMedian, trop: bTropMedian, tropWidth: 5.5, pmOpacity: 0.8,
  omiHigh: bOmiHigh, omiLow: bOmiLow, amHigh: bAmHigh, amLow: bAmLow, pmHigh: bPmHigh, pmLow: bPmLow,
  omiSpikeDates: bOmiSpikeDates, omiSpikeValues: bOmiSpikeValues,
  amSpikeDates: bAmSpikeDates, amSpikeValues: bAmSpikeValues,
  pmSpikeDates: bPmSpikeDates, pmSpikeValues: bPmSpikeValues
});
</script>
</body>
</html>
